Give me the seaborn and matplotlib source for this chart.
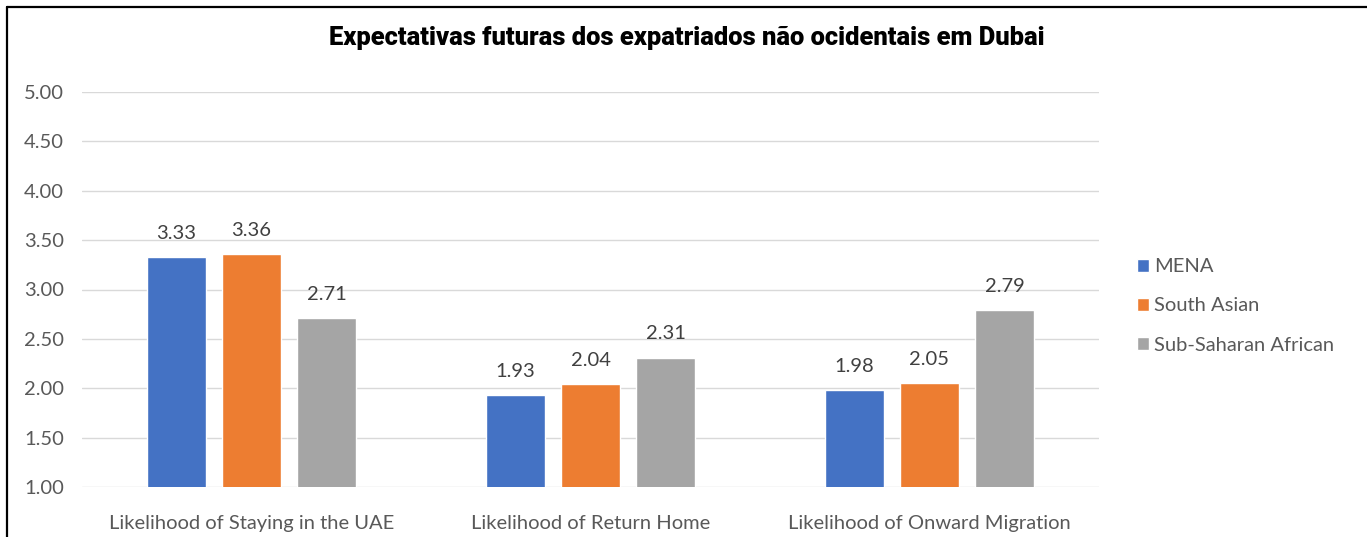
import matplotlib
matplotlib.use("Agg")
import matplotlib.pyplot as plt
from matplotlib.lines import Line2D
import seaborn as sns
import pandas as pd
import numpy as np

categories = ["Likelihood of Staying in the UAE", "Likelihood of Return Home", "Likelihood of Onward Migration"]
groups = ["MENA", "South Asian", "Sub-Saharan African"]
mena = [3.33, 1.93, 1.98]
south_asian = [3.36, 2.04, 2.05]
sub_saharan = [2.71, 2.31, 2.79]
colors = ["#4472C4", "#ED7D31", "#A5A5A5"]
title = "Expectativas futuras dos expatriados não ocidentais em Dubai"
y_ticks = [1.0, 1.5, 2.0, 2.5, 3.0, 3.5, 4.0, 4.5, 5.0]

rows = []
for g, vals in zip(groups, [mena, south_asian, sub_saharan]):
    for c, v in zip(categories, vals):
        rows.append({"category": c, "group": g, "value": v})
df = pd.DataFrame(rows)

sns.set_theme(style="white")
plt.rcParams["font.family"] = ["Lato", "DejaVu Sans"]

FS = 14.5
W, H = 1367, 537
fig = plt.figure(figsize=(W / 100, H / 100), dpi=100)
ax = fig.add_axes([82 / W, 1 - 487 / H, (1099 - 82) / W, (487 - 92) / H])

sns.barplot(data=df, x="category", y="value", hue="group", order=categories,
            hue_order=groups, palette=colors, width=0.665, gap=0.21,
            saturation=1, ax=ax, legend=True, err_kws={"linewidth": 0})

ax.set_ylim(1, 5)
ax.set_yticks(y_ticks)
ax.set_yticklabels([f"{t:.2f}" for t in y_ticks])
ax.set_xlim(-0.5, len(categories) - 0.5)
ax.set_xlabel("")
ax.set_ylabel("")
ax.grid(axis="y", color="#D9D9D9", linewidth=1)
ax.set_axisbelow(True)
for s in ax.spines.values():
    s.set_visible(False)
ax.tick_params(axis="y", length=0, pad=13, labelsize=FS, labelcolor="#595959")
ax.tick_params(axis="x", length=0, pad=20, labelsize=FS, labelcolor="#595959")

for cont in ax.containers:
    ax.bar_label(cont, labels=[f"{v:.2f}" for v in cont.datavalues],
                 padding=11, fontsize=FS, color="#404040")

handles, labels = ax.get_legend_handles_labels()
ax.get_legend().remove()
fig.legend(handles, labels, loc="center left", bbox_to_anchor=(1137 / W, 1 - 306 / H),
           frameon=False, fontsize=FS, labelcolor="#595959",
           handlelength=0.6, handleheight=0.6, handletextpad=0.25,
           labelspacing=1.1, borderpad=0, borderaxespad=0)

fig.text(687 / W, 1 - 38 / H, title, ha="center", va="center",
         fontsize=18.4, fontweight="heavy", family=["Roboto", "DejaVu Sans"],
         color="black")

fig.add_artist(Line2D([7 / W, 7 / W], [0, 1 - 7 / H], color="black", linewidth=1.6,
                      transform=fig.transFigure))
fig.add_artist(Line2D([7 / W, 1], [1 - 7 / H, 1 - 7 / H], color="black", linewidth=1.6,
                      transform=fig.transFigure))

fig.savefig("out.png", dpi=100, facecolor="white")
